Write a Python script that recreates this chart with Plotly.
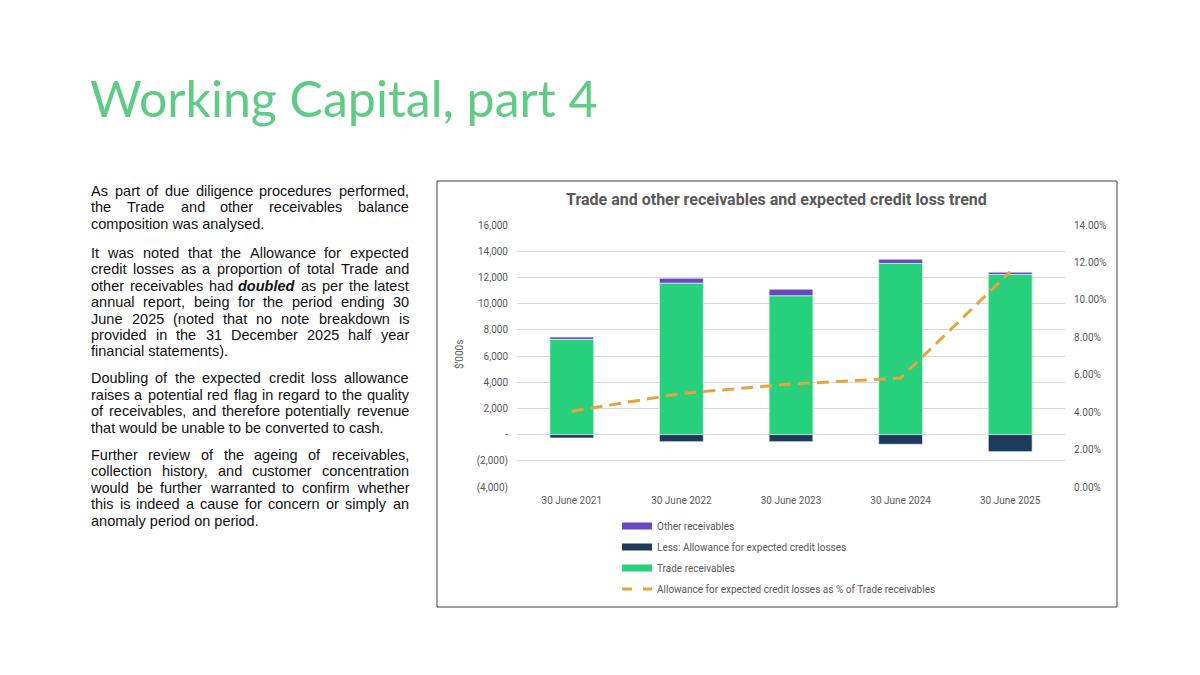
import re
import plotly.graph_objects as go

# ---------------- data ----------------
periods = ["30 June 2021", "30 June 2022", "30 June 2023", "30 June 2024", "30 June 2025"]
trade_receivables = [7270, 11560, 10600, 13060, 12220]
other_receivables = [180, 380, 500, 330, 180]
ecl_allowance = [-260, -540, -540, -740, -1300]
ecl_pct_of_trade = [0.0405, 0.0500, 0.0550, 0.0582, 0.1150]

left_tickvals = [-4000, -2000, 0, 2000, 4000, 6000, 8000, 10000, 12000, 14000, 16000]
left_ticktext = ["(4,000)", "(2,000)", "-", "2,000", "4,000", "6,000", "8,000",
                 "10,000", "12,000", "14,000", "16,000"]
right_tickvals = [0, 0.02, 0.04, 0.06, 0.08, 0.10, 0.12, 0.14]

slide_title = "Working Capital, part 4"
chart_title = "Trade and other receivables and expected credit loss trend"
y_title = "$'000s"

paragraphs = [
    ["As part of due diligence procedures performed,",
     "the Trade and other receivables balance",
     "composition was analysed."],
    ["It was noted that the Allowance for expected",
     "credit losses as a proportion of total Trade and",
     "other receivables had <b><i>doubled</i></b> as per the latest",
     "annual report, being for the period ending 30",
     "June 2025 (noted that no note breakdown is",
     "provided in the 31 December 2025 half year",
     "financial statements)."],
    ["Doubling of the expected credit loss allowance",
     "raises a potential red flag in regard to the quality",
     "of receivables, and therefore potentially revenue",
     "that would be unable to be converted to cash."],
    ["Further review of the ageing of receivables,",
     "collection history, and customer concentration",
     "would be further warranted to confirm whether",
     "this is indeed a cause for concern or simply an",
     "anomaly period on period."],
]

# ---------------- styles ----------------
C_TRADE = "#27D07D"
C_OTHER = "#6A48C2"
C_ECL = "#1E3A5C"
C_LINE = "#E6A33E"
C_TXT = "#595959"
C_GREEN_TITLE = "#5FCB84"

OFF = 8  # page body margin
W, H = 1200 - OFF, 675 - OFF
PL, PR, PT, PB = 517 - OFF, 1065 - OFF, 225 - OFF, 487 - OFF  # plot area (figure px)


def px_x(x):
    return (x - OFF - PL) / (PR - PL)


def px_y(y):
    return (PB - (y - OFF)) / (PB - PT)


# Liberation Sans (Arial-compatible) advance widths per 1000 em, for justification
CW = {'a': 556, 'b': 556, 'c': 500, 'd': 556, 'e': 556, 'f': 278, 'g': 556, 'h': 556,
      'i': 222, 'j': 222, 'k': 500, 'l': 222, 'm': 833, 'n': 556, 'o': 556, 'p': 556,
      'q': 556, 'r': 333, 's': 500, 't': 278, 'u': 556, 'v': 500, 'w': 722, 'x': 500,
      'y': 500, 'z': 500, ',': 278, '.': 278, '(': 333, ')': 333, "'": 191, ' ': 278,
      'A': 667, 'D': 722, 'F': 611, 'I': 278, 'J': 500, 'T': 611}
CW_BI = {'d': 611, 'o': 611, 'u': 611, 'b': 611, 'l': 278, 'e': 556}


def word_width(word, size):
    plain = re.sub(r"<[^>]+>", "", word)
    bold = "<b>" in word
    tot = 0
    for ch in plain:
        if bold and ch in CW_BI:
            tot += CW_BI[ch]
        elif ch in CW:
            tot += CW[ch]
        elif ch.isdigit():
            tot += 556
        else:
            tot += 600
    return tot * size / 1000.0


fig = go.Figure()

bar_line = dict(color="rgba(220,245,230,0.9)", width=0.8)
fig.add_trace(go.Bar(x=periods, y=trade_receivables, marker=dict(color=C_TRADE, line=bar_line),
                     name="Trade receivables", showlegend=False))
fig.add_trace(go.Bar(x=periods, y=other_receivables, marker=dict(color=C_OTHER, line=bar_line),
                     name="Other receivables", showlegend=False))
fig.add_trace(go.Bar(x=periods, y=ecl_allowance, marker=dict(color=C_ECL, line=bar_line),
                     name="Less: Allowance for expected credit losses", showlegend=False))
fig.add_trace(go.Scatter(x=periods, y=ecl_pct_of_trade, yaxis="y2", mode="lines",
                         line=dict(color=C_LINE, width=3, dash="12px,7px"),
                         name="Allowance for expected credit losses as % of Trade receivables",
                         showlegend=False))

# legend entries (one legend each for exact placement)
legend_items = [
    ("Other receivables", C_OTHER, "solid", 7, 526),
    ("Less: Allowance for expected credit losses", C_ECL, "solid", 7, 547),
    ("Trade receivables", C_TRADE, "solid", 7, 568),
    ("Allowance for expected credit losses as % of Trade receivables", C_LINE, "10px,11px", 3, 589),
]
legend_layouts = {}
for i, (nm, col, dash, wid, yc) in enumerate(legend_items):
    key = "legend" if i == 0 else f"legend{i + 1}"
    fig.add_trace(go.Scatter(x=[None], y=[None], mode="lines", name=nm,
                             line=dict(color=col, width=wid, dash=dash),
                             legend=key, showlegend=True))
    legend_layouts[key] = dict(x=px_x(617), xanchor="left", y=px_y(yc), yanchor="middle",
                               bgcolor="rgba(0,0,0,0)", borderwidth=0,
                               font=dict(family="Roboto", size=10, color=C_TXT),
                               itemwidth=30)

fig.update_layout(**legend_layouts)

annotations = []
# slide title
annotations.append(dict(text=slide_title, x=px_x(88), y=px_y(98), xref="paper", yref="paper",
                        xanchor="left", yanchor="middle", showarrow=False,
                        font=dict(family="Lato", size=50, color=C_GREEN_TITLE)))
# chart title
annotations.append(dict(text="<b>" + chart_title + "</b>", x=px_x(776), y=px_y(199),
                        xref="paper", yref="paper", xanchor="center", yanchor="middle",
                        showarrow=False, font=dict(family="Roboto", size=16, color=C_TXT)))
# y axis title
annotations.append(dict(text=y_title, x=px_x(459), y=px_y(355), xref="paper", yref="paper",
                        xanchor="center", yanchor="middle", textangle=-90, showarrow=False,
                        font=dict(family="Roboto", size=10, color=C_TXT)))

# body text (justified)
BODY_SIZE = 14.5
TX0, TX1 = 91, 409
para_starts = [191, 252.7, 378.3, 455]
line_h = 16.45
body_font = dict(family="Liberation Sans", size=BODY_SIZE, color="#111111")
for p, y0 in zip(paragraphs, para_starts):
    for j, line in enumerate(p):
        yy = px_y(y0 + j * line_h)
        last = (j == len(p) - 1)
        if last:
            annotations.append(dict(text=line, x=px_x(TX0), y=yy, xref="paper", yref="paper",
                                    xanchor="left", yanchor="middle", showarrow=False,
                                    borderpad=0, borderwidth=0, font=body_font))
            continue
        words = line.split(" ")
        widths = [word_width(w, BODY_SIZE) for w in words]
        gap = (TX1 - TX0 - sum(widths)) / (len(words) - 1)
        cur = TX0
        for k, (wd, ww) in enumerate(zip(words, widths)):
            annotations.append(dict(text=wd, x=px_x(cur + ww / 2), y=yy, xref="paper",
                                    yref="paper", xanchor="center", yanchor="middle",
                                    showarrow=False, borderpad=0, borderwidth=0,
                                    font=body_font))
            cur += ww + gap

fig.update_layout(
    width=W, height=H,
    paper_bgcolor="white", plot_bgcolor="white",
    margin=dict(l=PL, r=W - PR, t=PT, b=H - PB, pad=0),
    barmode="relative", bargap=0.6,
    annotations=annotations,
    shapes=[dict(type="rect", xref="paper", yref="paper",
                 x0=px_x(437), x1=px_x(1117), y0=px_y(607), y1=px_y(181),
                 line=dict(color="#404040", width=1), fillcolor="rgba(0,0,0,0)", layer="below")],
    xaxis=dict(showgrid=False, showline=False, zeroline=False, ticks="",
               tickfont=dict(family="Roboto", size=10, color=C_TXT), ticklabelstandoff=6),
    yaxis=dict(range=[-4000, 16000], tickvals=left_tickvals, ticktext=left_ticktext,
               showgrid=True, gridcolor="#D9D9D9", gridwidth=1, zeroline=False, showline=False,
               ticks="", tickfont=dict(family="Roboto", size=10, color=C_TXT),
               ticklabelstandoff=8),
    yaxis2=dict(range=[0, 0.14], tickvals=right_tickvals, tickformat=".2%", overlaying="y",
                side="right", showgrid=False, zeroline=False, showline=False, ticks="",
                tickfont=dict(family="Roboto", size=10, color=C_TXT), ticklabelstandoff=8),
    font=dict(family="Roboto", color=C_TXT),
)

fig.write_html("out.html")
